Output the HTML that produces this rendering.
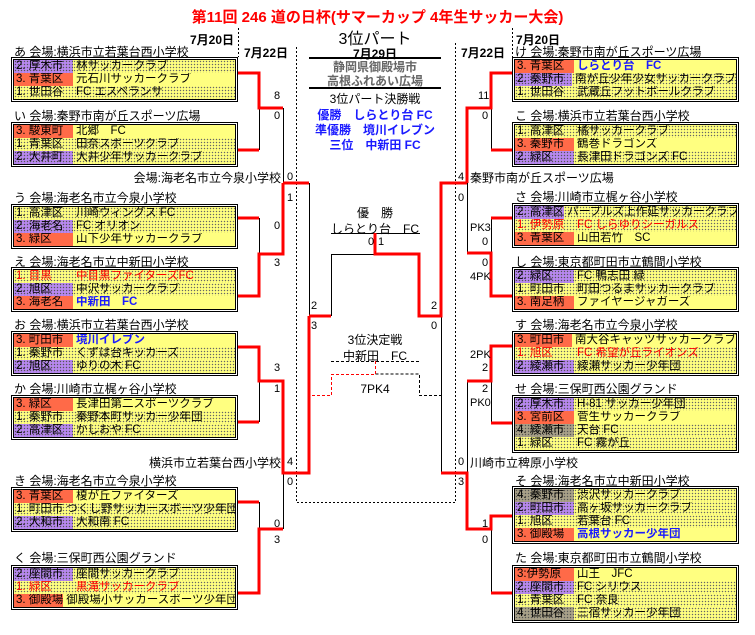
<!DOCTYPE html>
<html><head><meta charset="utf-8">
<style>
*{margin:0;padding:0;box-sizing:border-box}
body{width:755px;height:635px;background:#fff;position:relative;overflow:hidden;font-family:"Liberation Sans","Noto Sans CJK JP",sans-serif;font-size:12px;color:#000}
.a{position:absolute;white-space:nowrap}
.box{position:absolute;width:227px;border:1px solid #000;padding:1px;background:#fff}
.in{border:1px solid #000}
.r{height:13px;display:flex;line-height:13px;font-size:11.5px;overflow:hidden;white-space:nowrap}
.p{width:59px;padding-left:2px}
.n{flex:1;padding-left:3px}
.dot{background-color:#ffff80;background-image:radial-gradient(circle,#666 0.5px,transparent 0.9px);background-size:3px 3px}
.y{background:#ffff80}
.c3{background:#ff6a48}
.c2{background-color:#b888f0;background-image:radial-gradient(circle,#555 0.5px,transparent 0.9px);background-size:3px 3px}
.c4{background-color:#a8a088;background-image:radial-gradient(circle,#555 0.5px,transparent 0.9px);background-size:3px 3px}
.red{color:#ff0000}
.blue{color:#1a1aff;font-weight:bold}
.lbl{position:absolute;font-size:12px;line-height:14px;white-space:nowrap}
svg{position:absolute;left:0;top:0}
</style></head><body>
<svg width="755" height="635">
<g fill="none" stroke="#000" stroke-width="1" stroke-dasharray="2,2">
<path d="M238.5 28V57M296.5 47V502.5H455.5V43M512.5 28V57"/>
</g>
<g fill="none" stroke="#000" stroke-width="1">
<path d="M259.5 108V150M283.5 108V183M259.5 218V254M309.5 183V316M331.5 316V254.5H375M331 233.5H420M259.5 381V422M283.5 473V529M259.5 502V529"/>
<path d="M491.5 108V150M467.5 183V253M491.5 218V253M441.5 316V473M467.5 381V473M491.5 381V423M491.5 529V593"/>
</g>
<g fill="none" stroke="#f00" stroke-width="3">
<path d="M238 73H259V108H283M238 150H259M283 183H309M283 183V254H259V296H238M238 218H259M309 316H331M375 233V254H419V316H441V183H467M309 316V473H283V381H259V347H238M238 422H259M283 529H259V593H238M238 502H259"/>
<path d="M512 73H491V108H467V183M491 150H512M467 253H491V296H512M491 218H512M441 473H467V529H491V516H512M467 381H491V346H512M491 423H512M491 593H512"/>
</g>
<g fill="none" stroke-width="1" stroke-dasharray="3,2">
<path d="M331 361.5H419M375.5 374H419.5V395.5H441" stroke="#000"/>
<path d="M375.5 361V374.5H331.5V395.5H309" stroke="#f00"/>
</g>
<g stroke="#000" stroke-width="2"><path d="M309 58H441M309 88H441"/></g>
<g font-family="Liberation Sans,Noto Sans CJK JP,sans-serif" font-size="11">
<text x="274" y="99">8</text><text x="274" y="119">0</text>
<text x="287" y="180">0</text><text x="287" y="201">1</text>
<text x="274" y="229">0</text><text x="274" y="266">3</text>
<text x="311" y="309">2</text><text x="311" y="329">3</text>
<text x="274" y="371">3</text><text x="274" y="392">1</text>
<text x="287" y="465">4</text><text x="287" y="485">0</text>
<text x="274" y="527">0</text><text x="274" y="543">3</text>
<text x="478" y="99">11</text><text x="482" y="119">0</text>
<text x="458" y="180">4</text><text x="458" y="201">0</text>
<text x="470" y="231">PK3</text><text x="482" y="245">0</text>
<text x="482" y="266">0</text><text x="470" y="280">4PK</text>
<text x="431" y="309">2</text><text x="431" y="329">0</text>
<text x="470" y="358">2PK</text><text x="482" y="371">2</text>
<text x="482" y="392">2</text><text x="470" y="406">PK0</text>
<text x="458" y="465">0</text><text x="458" y="485">3</text>
<text x="482" y="527">1</text><text x="482" y="543">0</text>
<text x="368" y="245">0</text><text x="378" y="245">1</text>
</g>
</svg>

<div class="a" style="left:0;width:755px;top:9px;text-align:center;color:#f00;font-weight:bold;font-size:15px;line-height:18px">第11回 246 道の日杯(サマーカップ 4年生サッカー大会)</div>
<div class="a" style="left:190px;top:31px;font-weight:bold;font-size:12px">7月20日</div>
<div class="a" style="left:244px;top:44px;font-weight:bold;font-size:12px">7月22日</div>
<div class="a" style="left:461px;top:44px;font-weight:bold;font-size:12px">7月22日</div>
<div class="a" style="left:516px;top:31px;font-weight:bold;font-size:12px">7月20日</div>
<div class="a" style="left:309px;width:132px;text-align:center;top:31px;font-size:16px;line-height:18px">3位パート</div>
<div class="a" style="left:309px;width:132px;text-align:center;top:45px;font-weight:bold;font-size:12px">7月29日</div>
<div class="a" style="left:309px;width:132px;text-align:center;top:60px;font-weight:bold;color:#666;line-height:14px">静岡県御殿場市<br>高根ふれあい広場</div>
<div class="a" style="left:309px;width:132px;text-align:center;top:90px">3位パート決勝戦</div>
<div class="a" style="left:309px;width:132px;text-align:center;top:108px;color:#1a1aff;font-weight:bold;line-height:15px">優勝　しらとり台 FC<br>準優勝　境川イレブン<br>三位　中新田 FC</div>
<div class="a" style="left:331px;width:88px;text-align:center;top:205px;line-height:16px">優　勝<br>しらとり台　FC</div>
<div class="a" style="left:331px;width:88px;text-align:center;top:332px;line-height:16px">3位決定戦<br>中新田　FC</div>
<div class="a" style="left:331px;width:88px;text-align:center;top:382px">7PK4</div>
<div class="a" style="right:474px;top:169px;text-align:right">会場:海老名市立今泉小学校</div>
<div class="a" style="right:474px;top:454px;text-align:right">横浜市立若葉台西小学校</div>
<div class="a" style="left:470px;top:169px">秦野市南が丘スポーツ広場</div>
<div class="a" style="left:470px;top:454px">川崎市立稗原小学校</div>

<!-- LEFT -->
<div class="lbl" style="left:14px;top:45px">あ 会場:横浜市立若葉台西小学校</div>
<div class="box" style="left:11px;top:57px"><div class="in">
<div class="r"><div class="p c2">2. 厚木市</div><div class="n dot">林サッカークラブ</div></div>
<div class="r"><div class="p c3">3. 青葉区</div><div class="n y">元石川サッカークラブ</div></div>
<div class="r dot"><div class="p">1. 世田谷</div><div class="n">FC エスペランサ</div></div></div></div>

<div class="lbl" style="left:14px;top:109px">い 会場:秦野市南が丘スポーツ広場</div>
<div class="box" style="left:11px;top:122px"><div class="in">
<div class="r"><div class="p c3">3. 駿東町</div><div class="n y">北郷　FC</div></div>
<div class="r dot"><div class="p">1. 青葉区</div><div class="n">田奈スポーツクラブ</div></div>
<div class="r"><div class="p c2">2. 大井町</div><div class="n dot">大井少年サッカークラブ</div></div></div></div>

<div class="lbl" style="left:14px;top:191px">う 会場:海老名市立今泉小学校</div>
<div class="box" style="left:11px;top:204px"><div class="in">
<div class="r dot"><div class="p">1. 高津区</div><div class="n">川崎ウィングス FC</div></div>
<div class="r"><div class="p c2">2. 海老名</div><div class="n dot">FC オリオン</div></div>
<div class="r"><div class="p c3">3. 緑区</div><div class="n y">山下少年サッカークラブ</div></div></div></div>

<div class="lbl" style="left:14px;top:255px">え 会場:海老名市立中新田小学校</div>
<div class="box" style="left:11px;top:267px"><div class="in">
<div class="r dot red"><div class="p">1. 目黒</div><div class="n">中目黒ファイターズFC</div></div>
<div class="r"><div class="p c2">2. 旭区</div><div class="n dot">中沢サッカークラブ</div></div>
<div class="r"><div class="p c3">3. 海老名</div><div class="n y blue">中新田　FC</div></div></div></div>

<div class="lbl" style="left:14px;top:318px">お 会場:横浜市立若葉台西小学校</div>
<div class="box" style="left:11px;top:331px"><div class="in">
<div class="r"><div class="p c3">3. 町田市</div><div class="n y blue">境川イレブン</div></div>
<div class="r dot"><div class="p">1. 秦野市</div><div class="n">くずは台キッカーズ</div></div>
<div class="r"><div class="p c2">2. 旭区</div><div class="n dot">ゆりの木 FC</div></div></div></div>

<div class="lbl" style="left:14px;top:382px">か 会場:川崎市立梶ヶ谷小学校</div>
<div class="box" style="left:11px;top:395px"><div class="in">
<div class="r"><div class="p c3">3. 緑区</div><div class="n y">長津田第二スポーツクラブ</div></div>
<div class="r dot"><div class="p">1. 秦野市</div><div class="n">秦野本町サッカー少年団</div></div>
<div class="r"><div class="p c2">2. 高津区</div><div class="n dot">かしおや FC</div></div></div></div>

<div class="lbl" style="left:14px;top:474px">き 会場:海老名市立今泉小学校</div>
<div class="box" style="left:11px;top:487px"><div class="in">
<div class="r"><div class="p c3">3. 青葉区</div><div class="n y">榎が丘ファイターズ</div></div>
<div class="r dot"><div class="p">1. 町田市</div><div class="n">つくし野サッカースポーツ少年団</div></div>
<div class="r"><div class="p c2">2. 大和市</div><div class="n dot">大和南 FC</div></div></div></div>

<div class="lbl" style="left:14px;top:551px">く 会場:三保町西公園グランド</div>
<div class="box" style="left:11px;top:565px"><div class="in">
<div class="r"><div class="p c2">2. 座間市</div><div class="n dot">座間サッカークラブ</div></div>
<div class="r dot red"><div class="p">1. 緑区</div><div class="n">黒滝サッカークラブ</div></div>
<div class="r"><div class="p c3">3. 御殿場</div><div class="n y">御殿場小サッカースポーツ少年団</div></div></div></div>

<!-- RIGHT -->
<div class="lbl" style="left:515px;top:45px">け 会場:秦野市南が丘スポーツ広場</div>
<div class="box" style="left:512px;top:57px"><div class="in">
<div class="r"><div class="p c3">3. 青葉区</div><div class="n y blue">しらとり台　FC</div></div>
<div class="r"><div class="p c2">2. 秦野市</div><div class="n dot">南が丘少年少女サッカークラブ</div></div>
<div class="r dot"><div class="p">1. 世田谷</div><div class="n">武蔵丘フットボールクラブ</div></div></div></div>

<div class="lbl" style="left:515px;top:109px">こ 会場:横浜市立若葉台西小学校</div>
<div class="box" style="left:512px;top:122px"><div class="in">
<div class="r dot"><div class="p">1. 高津区</div><div class="n">橘サッカークラブ</div></div>
<div class="r"><div class="p c3">3. 秦野市</div><div class="n y">鶴巻ドラゴンズ</div></div>
<div class="r"><div class="p c2">2. 緑区</div><div class="n dot">長津田ドラゴンズ FC</div></div></div></div>

<div class="lbl" style="left:515px;top:190px">さ 会場:川崎市立梶ヶ谷小学校</div>
<div class="box" style="left:512px;top:203px"><div class="in">
<div class="r"><div class="p c2">2. 高津区</div><div class="n dot">パープルズ上作延サッカークラブ</div></div>
<div class="r dot red"><div class="p">1. 伊勢原</div><div class="n">FC しらゆりシーガルス</div></div>
<div class="r"><div class="p c3">3. 青葉区</div><div class="n y">山田若竹　SC</div></div></div></div>

<div class="lbl" style="left:515px;top:255px">し 会場:東京都町田市立鶴間小学校</div>
<div class="box" style="left:512px;top:267px"><div class="in">
<div class="r"><div class="p c2">2. 緑区</div><div class="n dot">FC 鴨志田 緑</div></div>
<div class="r dot"><div class="p">1. 町田市</div><div class="n">町田つるまサッカークラブ</div></div>
<div class="r"><div class="p c3">3. 南足柄</div><div class="n y">ファイヤージャガーズ</div></div></div></div>

<div class="lbl" style="left:515px;top:318px">す 会場:海老名市立今泉小学校</div>
<div class="box" style="left:512px;top:331px"><div class="in">
<div class="r"><div class="p c3">3. 町田市</div><div class="n y">南大谷キャッツサッカークラブ</div></div>
<div class="r dot red"><div class="p">1. 旭区</div><div class="n">FC 希望が丘ライオンズ</div></div>
<div class="r"><div class="p c2">2. 綾瀬市</div><div class="n dot">綾瀬サッカー少年団</div></div></div></div>

<div class="lbl" style="left:515px;top:382px">せ 会場:三保町西公園グランド</div>
<div class="box" style="left:512px;top:395px"><div class="in">
<div class="r"><div class="p c2">2. 厚木市</div><div class="n dot">H-81 サッカー少年団</div></div>
<div class="r"><div class="p c3">3. 宮前区</div><div class="n y">菅生サッカークラブ</div></div>
<div class="r"><div class="p c4">4. 綾瀬市</div><div class="n dot">天台 FC</div></div>
<div class="r dot"><div class="p">1. 緑区</div><div class="n">FC 霧が丘</div></div></div></div>

<div class="lbl" style="left:515px;top:474px">そ 会場:海老名市立中新田小学校</div>
<div class="box" style="left:512px;top:486px"><div class="in">
<div class="r"><div class="p c4">4. 秦野市</div><div class="n dot">渋沢サッカークラブ</div></div>
<div class="r"><div class="p c2">2. 町田市</div><div class="n dot">高ヶ坂サッカークラブ</div></div>
<div class="r dot"><div class="p">1. 旭区</div><div class="n">若葉台 FC</div></div>
<div class="r"><div class="p c3">3. 御殿場</div><div class="n y blue">高根サッカー少年団</div></div></div></div>

<div class="lbl" style="left:515px;top:551px">た 会場:東京都町田市立鶴間小学校</div>
<div class="box" style="left:512px;top:565px"><div class="in">
<div class="r"><div class="p c3">3:伊勢原</div><div class="n y">山王　JFC</div></div>
<div class="r"><div class="p c2">2. 座間市</div><div class="n dot">FC シリウス</div></div>
<div class="r dot"><div class="p">1. 青葉区</div><div class="n">FC 奈良</div></div>
<div class="r"><div class="p c4">4. 世田谷</div><div class="n dot">三宿サッカー少年団</div></div></div></div>
</body></html>
